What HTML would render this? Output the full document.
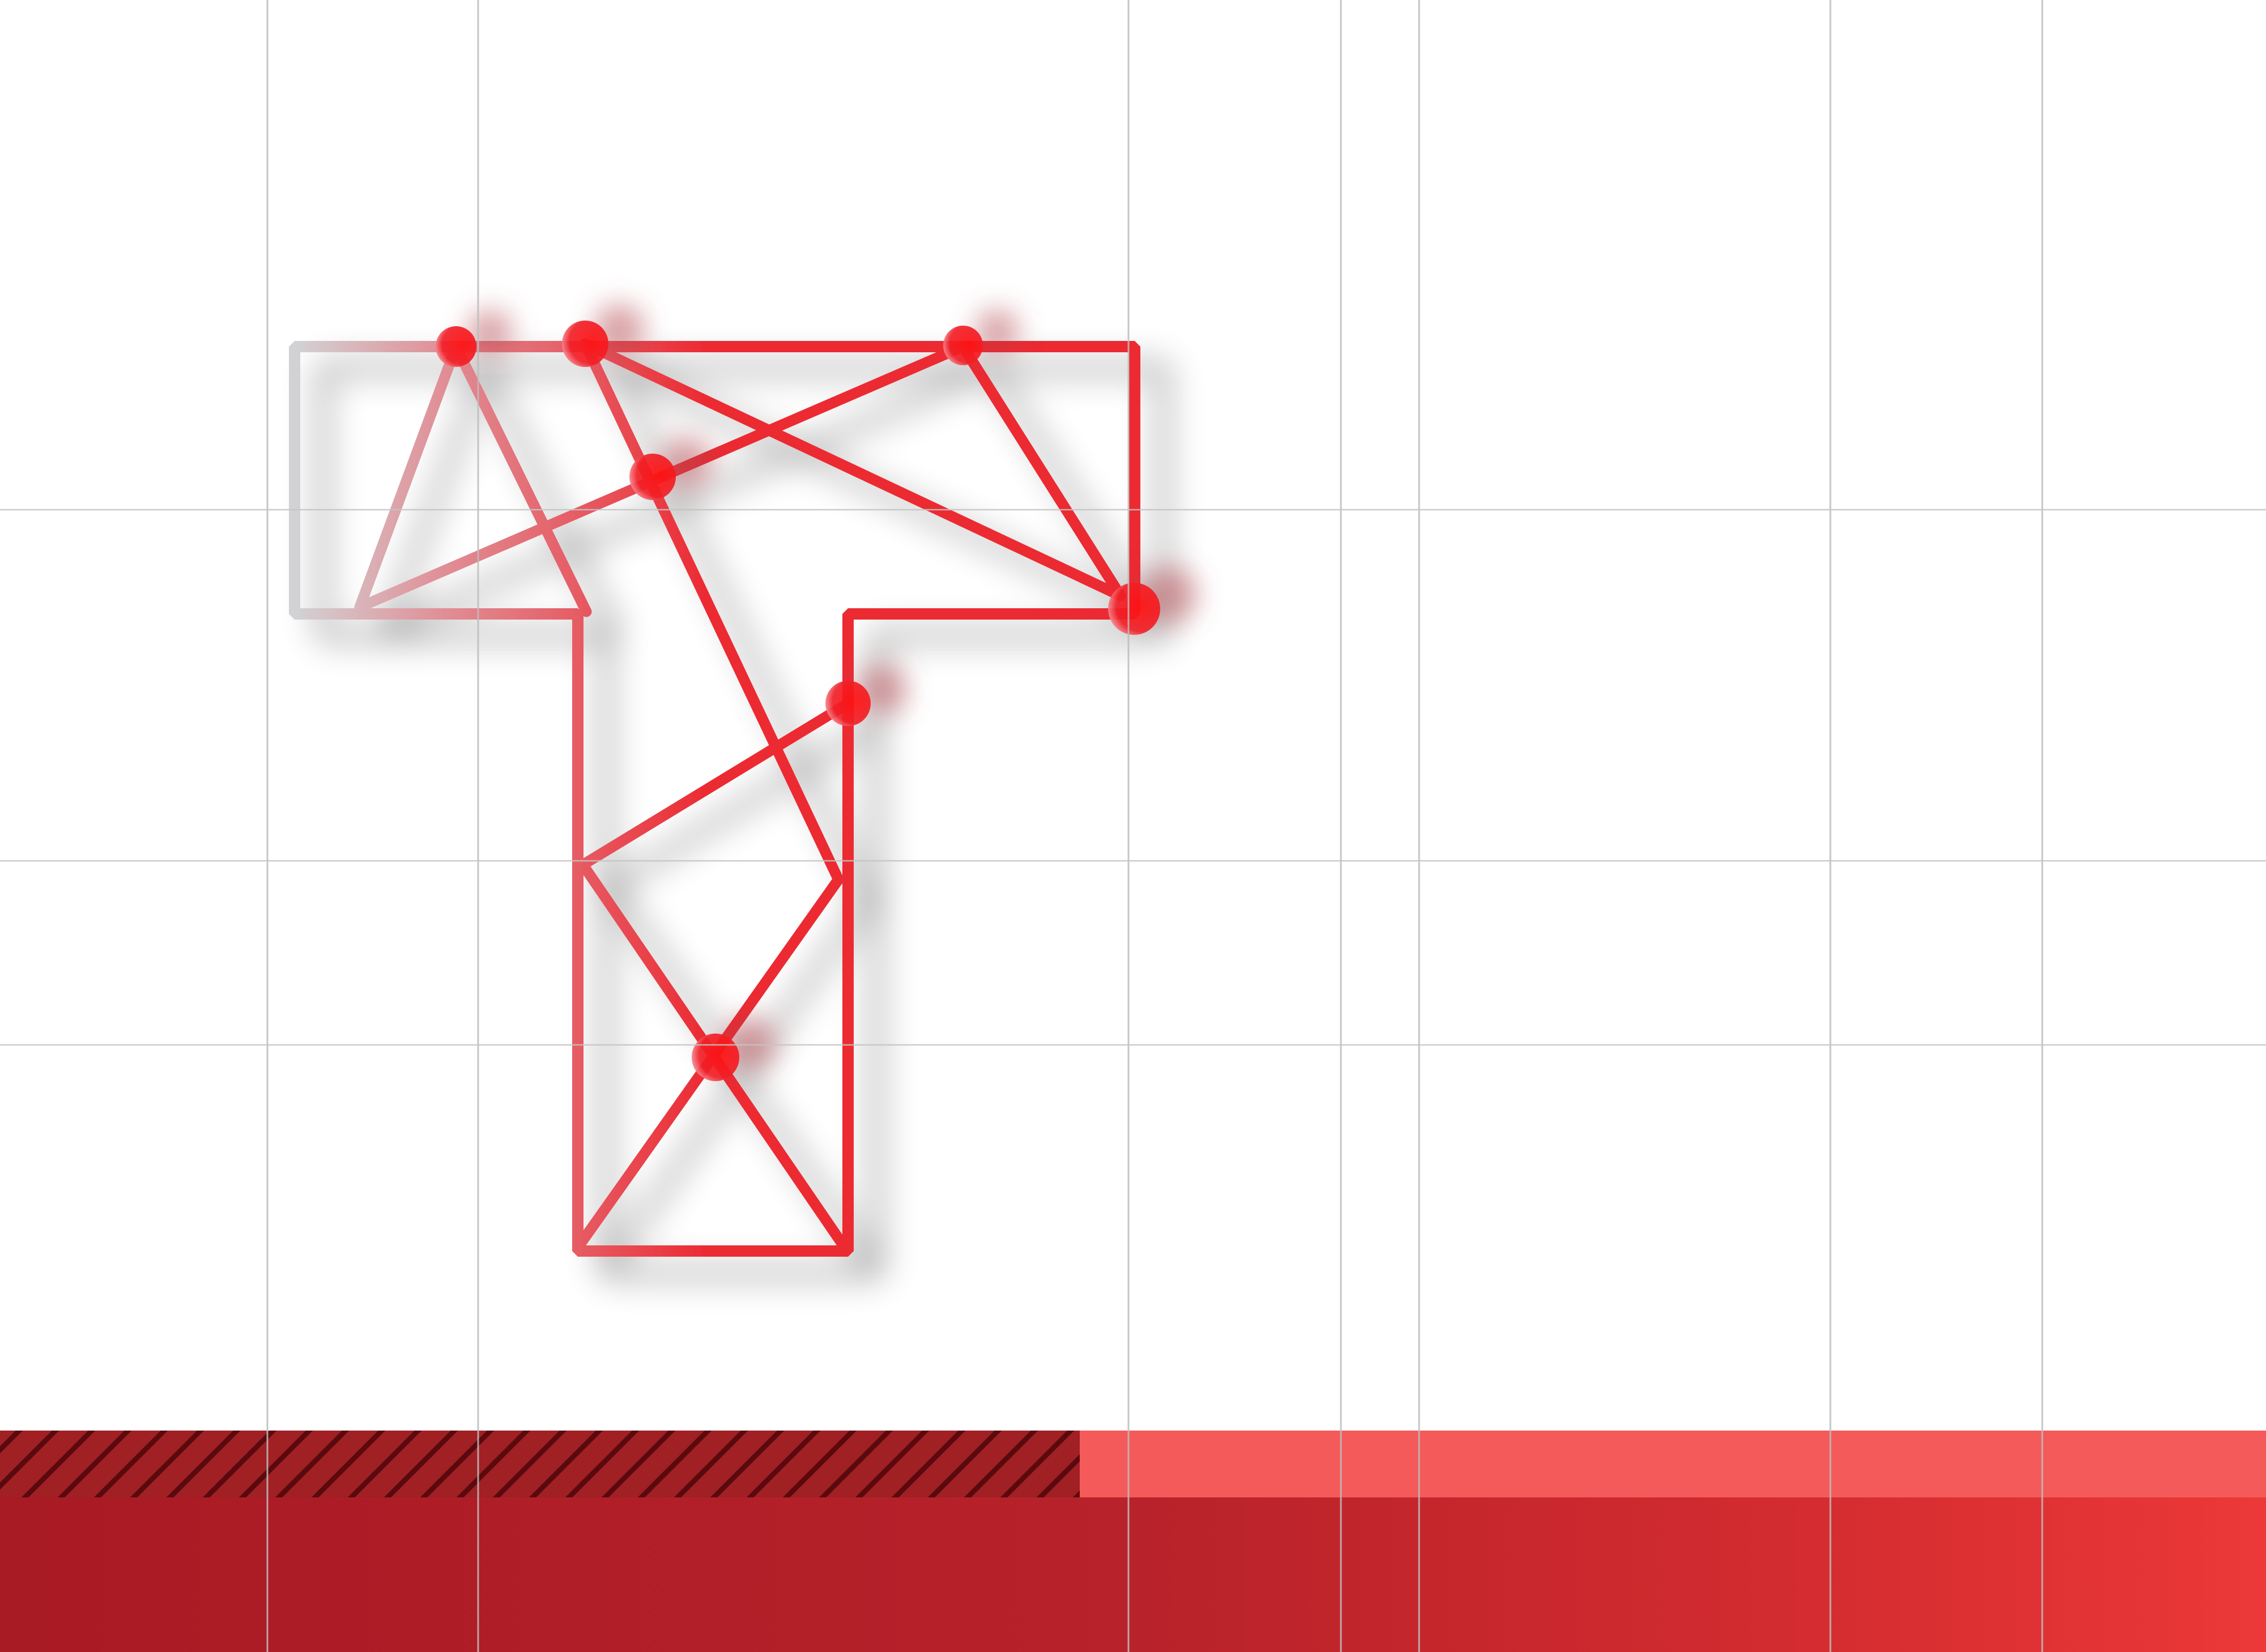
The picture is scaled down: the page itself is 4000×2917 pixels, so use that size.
<!DOCTYPE html>
<html><head><meta charset="utf-8">
<style>
html,body{margin:0;padding:0;background:#fff;width:4000px;height:2917px;overflow:hidden}
svg{display:block}
</style></head>
<body>
<svg id="chart" width="4000" height="2917" viewBox="0 0 4000 2917" xmlns="http://www.w3.org/2000/svg">
<defs>
  <linearGradient id="lineGrad" gradientUnits="userSpaceOnUse" x1="520" y1="0" x2="1250" y2="0">
    <stop offset="0" stop-color="#d2d2d4"/>
    <stop offset="0.35" stop-color="#e09098"/>
    <stop offset="1" stop-color="#ec2a32"/>
  </linearGradient>
  <linearGradient id="barGrad" x1="0" y1="0" x2="1" y2="0">
    <stop offset="0" stop-color="#a81a24"/>
    <stop offset="0.5" stop-color="#b8222a"/>
    <stop offset="0.8" stop-color="#d42c30"/>
    <stop offset="1" stop-color="#ec3838"/>
  </linearGradient>
  <pattern id="hatch" patternUnits="userSpaceOnUse" width="64" height="64">
    <rect width="64" height="64" fill="#a02024"/>
    <path d="M-16,80 L80,-16 M-48,48 L48,-48 M16,112 L112,16" stroke="#5a0a0e" stroke-width="9"/>
  </pattern>
  <filter id="shadow" x="-20%" y="-20%" width="150%" height="150%">
    <feGaussianBlur in="SourceAlpha" stdDeviation="30"/>
    <feOffset dx="50" dy="38" result="b"/>
    <feComponentTransfer><feFuncA type="linear" slope="0.4"/></feComponentTransfer>
    <feMerge><feMergeNode/><feMergeNode in="SourceGraphic"/></feMerge>
  </filter>
  <filter id="nodeShadow" x="-150%" y="-150%" width="400%" height="400%">
    <feGaussianBlur in="SourceGraphic" stdDeviation="24"/>
  </filter>
  <radialGradient id="nodeGrad" cx="0.65" cy="0.45" r="0.7">
    <stop offset="0" stop-color="#ff1010"/>
    <stop offset="0.7" stop-color="#f02028"/>
    <stop offset="1" stop-color="#f8a0a8"/>
  </radialGradient>
</defs>
<g id="bars"></g>
<g id="shape" filter="url(#shadow)"></g>
<g id="nodes"></g>
<g id="grid"></g>
</svg>
<script>
const NS = "http://www.w3.org/2000/svg";
const gridX = [472, 844, 1992, 2367, 2505, 3231, 3605];
const gridY = [900, 1520, 1845];
const outlineX = [520, 2003, 2003, 1497, 1497, 1020, 1020, 520];
const outlineY = [612, 612, 1084, 1084, 2209, 2209, 1084, 1084];
const edgeX1 = [805, 805, 635, 1033, 1033, 1700, 1497, 1029, 1480];
const edgeY1 = [612, 612, 1072, 607, 607, 612, 1242, 1527, 1553];
const edgeX2 = [635, 1035, 1700, 1480, 1978, 1978, 1029, 1492, 1022];
const edgeY2 = [1072, 1080, 612, 1553, 1052, 1052, 1527, 2204, 2200];
const nodeX = [805, 1033, 1152, 1700, 2002, 1497, 1263];
const nodeY = [612, 607, 842, 610, 1075, 1242, 1867];
const nodeR = [36, 41, 41, 35, 46, 40, 42];
const bandTop = [2526, 2644];
const bandBottom = [2644, 2917];
const hatchEnd = 1906;

const grid = document.getElementById('grid');
const shape = document.getElementById('shape');
const nodes = document.getElementById('nodes');
const bars = document.getElementById('bars');

function mk(tag, attrs){const e=document.createElementNS(NS,tag);for(const k in attrs)e.setAttribute(k,attrs[k]);return e;}

let r1 = mk('rect',{x:0,y:bandTop[0],width:hatchEnd,height:bandBottom[0]-bandTop[0],fill:'url(#hatch)'});


bars.appendChild(r1);
let r2 = mk('rect',{x:hatchEnd,y:bandTop[0],width:4000-hatchEnd,height:bandBottom[0]-bandTop[0],fill:'#f55a5a'});


bars.appendChild(r2);
let r3 = mk('rect',{x:0,y:bandTop[1],width:4000,height:bandBottom[1]-bandTop[1],fill:'url(#barGrad)'});


bars.appendChild(r3);

let pts = outlineX.map((x,i)=>x+','+outlineY[i]).join(' ');
let poly = mk('polygon',{points:pts,fill:'none',stroke:'url(#lineGrad)','stroke-width':20,'stroke-linejoin':'bevel'});


shape.appendChild(poly);

edgeX1.forEach((x,i)=>{
  const l = mk('line',{x1:x,y1:edgeY1[i],x2:edgeX2[i],y2:edgeY2[i],stroke:'url(#lineGrad)','stroke-width':19,'stroke-linecap':'round'});
  
  
  shape.appendChild(l);
});

nodeX.forEach((x,i)=>{
  const s = mk('circle',{cx:x+60,cy:nodeY[i]-25,r:nodeR[i]*1.1,fill:'#b04048',opacity:0.5,filter:'url(#nodeShadow)'});
  
  
  nodes.appendChild(s);
  const c = mk('circle',{cx:x,cy:nodeY[i],r:nodeR[i],fill:'url(#nodeGrad)',opacity:0.92});
  
  
  nodes.appendChild(c);
});

gridX.forEach(x=>{
  const l = mk('line',{x1:x,y1:0,x2:x,y2:2917,stroke:'#bdbdbd','stroke-width':3,opacity:0.85});
  
  
  grid.appendChild(l);
});
gridY.forEach(y=>{
  const l = mk('line',{x1:0,y1:y,x2:4000,y2:y,stroke:'#c4c4c4','stroke-width':2.5,opacity:0.85});
  
  
  grid.appendChild(l);
});
</script>
</body></html>
